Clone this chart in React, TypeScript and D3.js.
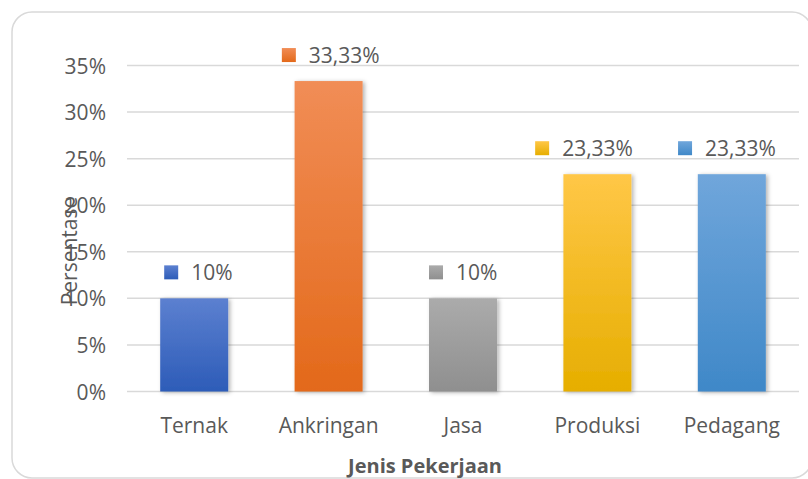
/** Jenis Pekerjaan bar chart — percentage per occupation with gradient bars and keyed data labels. */

import * as d3 from "d3";

const categories = ["Ternak", "Ankringan", "Jasa", "Produksi", "Pedagang"];
const values = [10, 33.33, 10, 23.33, 23.33];
const valueLabels = ["10%", "33,33%", "10%", "23,33%", "23,33%"];
const yTicks = [0, 5, 10, 15, 20, 25, 30, 35];

// top / bottom gradient stops per bar
const barColors: [string, string][] = [
  ["#5c80d0", "#2d5cb8"],
  ["#f18d56", "#e3691a"],
  ["#ababab", "#8f8f8f"],
  ["#ffc747", "#e6ae00"],
  ["#70a6db", "#3f88c8"],
];

// data labels were hand-placed in the original, not exactly centred
const labelNudge = [4, 4.5, 0, -11, -2.5];

const W = 808;
const H = 479;
const FONT = "'Open Sans', sans-serif";
const TEXT = "#595959";

export default function App() {
  const left = 127;
  const right = 799;
  const top = 65.5;
  const bottom = 391.5;

  const x = d3.scaleBand<string>().domain(categories).range([left, right]).paddingInner(0.494).paddingOuter(0.247);
  const y = d3.scaleLinear().domain([0, 35]).range([bottom, top]);

  return (
    <svg
      width={W}
      height={H}
      style={{ position: "absolute", left: 0, top: 0 }}
      fontFamily={FONT}
    >
      <defs>
        {barColors.map(([c1, c2], i) => (
          <linearGradient key={i} id={`g${i}`} x1="0" y1="0" x2="0" y2="1">
            <stop offset="0%" stopColor={c1} />
            <stop offset="100%" stopColor={c2} />
          </linearGradient>
        ))}
        <filter id="shadow" x="-20%" y="-5%" width="140%" height="110%">
          <feDropShadow dx="2" dy="1" stdDeviation="2" floodColor="#000" floodOpacity="0.3" />
        </filter>
      </defs>

      {/* Chart frame */}
      <rect x={12} y={12} width={800} height={466} rx={20} fill="#fff" stroke="#d9d9d9" strokeWidth={1.5} />

      {/* Grid lines */}
      {yTicks.map((t) => (
        <line key={t} x1={left} x2={right} y1={y(t)} y2={y(t)} stroke="#d9d9d9" strokeWidth={1.5} />
      ))}

      {/* Y tick labels */}
      {yTicks.map((t) => (
        <text key={t} x={106} y={y(t)} fill={TEXT} fontSize={21} textAnchor="end" dominantBaseline="central">
          {t}%
        </text>
      ))}

      {/* Bars */}
      {categories.map((c, i) => (
        <rect
          key={c}
          x={x(c)}
          y={y(values[i])}
          width={x.bandwidth()}
          height={y(0) - y(values[i])}
          fill={`url(#g${i})`}
          filter="url(#shadow)"
        />
      ))}

      {/* Data labels with key squares */}
      {categories.map((c, i) => {
        const cx = (x(c) ?? 0) + x.bandwidth() / 2 + labelNudge[i];
        const cy = y(values[i]) - 26;
        const textW = (valueLabels[i].length - 1) * 11.5 + 18;
        const groupW = 14 + 13 + textW;
        const x0 = cx - groupW / 2;
        return (
          <g key={c}>
            <rect x={x0} y={cy - 7} width={14} height={14} fill={`url(#g${i})`} />
            <text x={x0 + 27} y={cy} fill={TEXT} fontSize={21} dominantBaseline="central">
              {valueLabels[i]}
            </text>
          </g>
        );
      })}

      {/* X category labels */}
      {categories.map((c) => (
        <text
          key={c}
          x={(x(c) ?? 0) + x.bandwidth() / 2}
          y={425}
          fill={TEXT}
          fontSize={21}
          textAnchor="middle"
          dominantBaseline="central"
        >
          {c}
        </text>
      ))}

      {/* Axis titles */}
      <text x={425} y={465} fill={TEXT} fontSize={20} fontWeight={700} textAnchor="middle" dominantBaseline="central">
        Jenis Pekerjaan
      </text>
      <text
        transform="translate(69,251) rotate(-90)"
        fill={TEXT}
        fontSize={21}
        textAnchor="middle"
        dominantBaseline="central"
      >
        Persentase
      </text>
    </svg>
  );
}
